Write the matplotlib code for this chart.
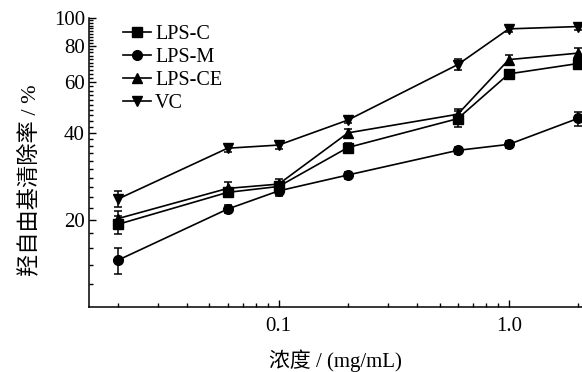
import matplotlib
matplotlib.use("Agg")
import matplotlib.pyplot as plt
from matplotlib.lines import Line2D
from matplotlib.ticker import FixedLocator, FixedFormatter, NullFormatter, LogLocator

# concentration (mg/mL) and hydroxyl radical scavenging rate (%)
conc = [0.02, 0.06, 0.1, 0.2, 0.6, 1.0, 2.0]

lps_c = [19.3, 24.9, 26.1, 35.6, 44.8, 64.0, 69.5]
lps_m = [14.5, 21.8, 25.2, 28.6, 34.8, 36.5, 44.9]
lps_ce = [20.2, 25.7, 26.6, 40.0, 46.4, 71.7, 75.5]
vc = [23.6, 35.4, 36.3, 44.3, 68.9, 91.6, 93.3]

err_c = [1.4, 0.8, 0.9, 1.2, 2.8, 1.5, 2.5]
err_m = [1.5, 0.7, 1.0, 0.8, 0.9, 1.0, 2.5]
err_ce = [1.2, 1.4, 1.0, 1.2, 2.0, 2.5, 3.0]
vc_err = [1.5, 1.0, 1.0, 1.0, 3.0, 2.5, 2.5]

series = [
    ("LPS-C", lps_c, err_c, "s"),
    ("LPS-M", lps_m, err_m, "o"),
    ("LPS-CE", lps_ce, err_ce, "^"),
    ("VC", vc, vc_err, "v"),
]

serif = ["Liberation Serif", "Noto Sans CJK SC"]
plt.rcParams["font.family"] = serif

fig = plt.figure(figsize=(5.82, 3.72), dpi=100)
ax = fig.add_axes([0.153, 0.175, 0.847, 0.777])

handles = []
for name, vals, err, mk in series:
    ax.errorbar(conc, vals, yerr=err, color="black", marker=mk,
                markersize=7, linewidth=1.2, elinewidth=1.1,
                capsize=3, capthick=1.1, clip_on=False)
    handles.append(Line2D([], [], color="black", marker=mk, markersize=7,
                          linewidth=1.2, label=name))

ax.set_xscale("log")
ax.set_yscale("log")
ax.set_xlim(0.015, 2.08)
ax.set_ylim(10, 100)

ax.xaxis.set_major_locator(FixedLocator([0.1, 1.0]))
ax.xaxis.set_major_formatter(FixedFormatter(["0.1", "1.0"]))
ax.xaxis.set_minor_locator(LogLocator(base=10, subs=range(2, 10)))
ax.xaxis.set_minor_formatter(NullFormatter())

ax.yaxis.set_major_locator(FixedLocator([20, 40, 60, 80, 100]))
ax.yaxis.set_major_formatter(FixedFormatter(["20", "40", "60", "80", "100"]))
ax.yaxis.set_minor_locator(FixedLocator([v for v in range(12, 100, 2) if v % 20]))
ax.yaxis.set_minor_formatter(NullFormatter())

ax.tick_params(which="both", direction="in", labelsize=15, width=1.0)
ax.tick_params(which="major", length=5)
ax.tick_params(which="minor", length=3)
ax.tick_params(axis="x", pad=7)
ax.tick_params(axis="y", pad=3)

for side in ["top", "right"]:
    ax.spines[side].set_visible(False)
for side in ["left", "bottom"]:
    ax.spines[side].set_linewidth(1.1)

ax.set_xlabel("浓度 / (mg/mL)", fontsize=15, labelpad=10)
ax.set_ylabel("羟自由基清除率 / %", fontsize=16)
ax.yaxis.set_label_coords(-0.10, 0.44)

ax.legend(handles=handles, loc="upper left", bbox_to_anchor=(0.04, 1.025),
          frameon=False, fontsize=14.5, handlelength=1.4, handletextpad=0.2,
          labelspacing=0.2, borderaxespad=0.3)

fig.savefig("out.png", dpi=100)
